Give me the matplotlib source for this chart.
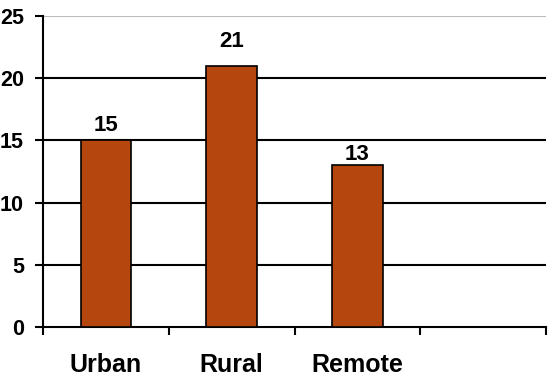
import numpy as np
import matplotlib
matplotlib.use("Agg")
import matplotlib.pyplot as plt

# --- data ---
categories = ["Urban", "Rural", "Remote"]
values = [15, 21, 13]
n_slots = 4                      # axis has room for a 4th (empty) category
yticks = [0, 5, 10, 15, 20, 25]

# how far each value label sits above its bar (points), as in the original
label_lift = [6.5, 13.7, 3.6]

plt.rcParams["font.family"] = ["Liberation Sans", "DejaVu Sans"]
plt.rcParams["font.weight"] = "bold"

fig = plt.figure(figsize=(5.49, 3.78), dpi=100)
ax = fig.add_axes([43 / 549, 51 / 378, 503 / 549, 311 / 378])

x = np.arange(len(values))
ax.bar(x, values, width=0.4, color="#B4460E", edgecolor="black",
       linewidth=1.2, zorder=3)

ax.set_xlim(-0.5, n_slots - 0.5)
ax.set_ylim(0, 25)

# gridlines: black inside, grey one at the top
for y in yticks[1:-1]:
    ax.axhline(y, color="black", lw=1.5, zorder=1)
ax.axhline(yticks[-1], color="#BBBBBB", lw=1.5, zorder=1)

for s in ["top", "right"]:
    ax.spines[s].set_visible(False)
for s in ["left", "bottom"]:
    ax.spines[s].set_linewidth(1.5)
    ax.spines[s].set_color("black")

ax.set_yticks(yticks)
ax.set_yticklabels([str(t) for t in yticks], fontsize=15.5, fontweight="bold")
ax.tick_params(axis="y", length=5.8, width=1.5, pad=8.0)

ax.set_xticks(x)
ax.set_xticklabels(categories, fontsize=18, fontweight="bold")
ax.tick_params(axis="x", which="major", length=0, pad=18.5)
ax.set_xticks(np.arange(-0.5, n_slots), minor=True)
ax.tick_params(axis="x", which="minor", length=5.8, width=1.5, direction="out")

for i, v in enumerate(values):
    ax.annotate(str(v), (i, v), xytext=(0, label_lift[i]),
                textcoords="offset points", ha="center", va="baseline",
                fontsize=16, fontweight="bold")

fig.savefig("out.png", dpi=100)
